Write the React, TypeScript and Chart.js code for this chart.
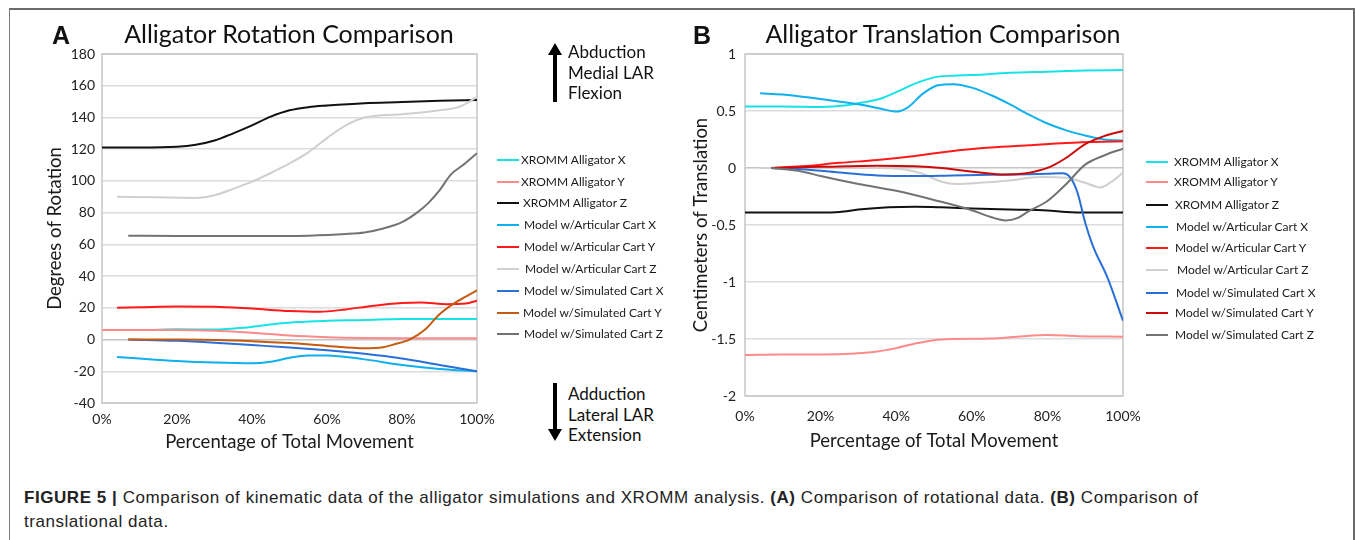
import React, { useEffect, useRef } from 'react';
import { Chart, registerables } from 'chart.js';

Chart.register(...registerables);

type Pts = [number, number][];

// ---------- axis ticks ----------
const xTickValues = [0, 20, 40, 60, 80, 100];
const xTickLabels = ['0%', '20%', '40%', '60%', '80%', '100%'];
const rotTickValues = [-40, -20, 0, 20, 40, 60, 80, 100, 120, 140, 160, 180];
const rotTickLabels = ['-40', '-20', '0', '20', '40', '60', '80', '100', '120', '140', '160', '180'];
const trTickValues = [-2, -1.5, -1, -0.5, 0, 0.5, 1];
const trTickLabels = ['-2', '-1.5', '-1', '-0.5', '0', '0.5', '1'];

// ---------- series ----------
const seriesNames = [
  'XROMM Alligator X',
  'XROMM Alligator Y',
  'XROMM Alligator Z',
  'Model w/Articular Cart X',
  'Model w/Articular Cart Y',
  'Model w/Articular Cart Z',
  'Model w/Simulated Cart X',
  'Model w/Simulated Cart Y',
  'Model w/Simulated Cart Z',
];
const rotColors = ['#17e3e6', '#ff8a8a', '#111111', '#0fb0ee', '#ff1a1a', '#cfcfcf', '#2a6fd6', '#c55a11', '#737373'];
const trColors = ['#17e3e6', '#ff8a8a', '#111111', '#0fb0ee', '#ff1a1a', '#cfcfcf', '#2a6fd6', '#cc0a0a', '#737373'];

// Rotation (degrees) — x = percentage of total movement
const rotXrommX: Pts = [[0, 6], [10, 6], [20, 6.5], [30, 6.3], [38, 7.5], [45, 9.5], [52, 11], [60, 11.8], [70, 12.3], [80, 13], [90, 13], [100, 13]];
const rotXrommY: Pts = [[0, 6], [10, 6], [20, 6], [30, 5.5], [40, 4.3], [50, 2.5], [60, 1.5], [70, 1], [80, 0.8], [90, 0.8], [100, 0.8]];
const rotXrommZ: Pts = [[0, 121], [10, 121], [20, 121.5], [25, 122.8], [30, 125.5], [35, 130], [40, 135], [45, 140.5], [50, 144.5], [55, 146.5], [60, 147.5], [70, 149], [80, 149.7], [90, 150.5], [100, 151]];
const rotArtX: Pts = [[4, -11], [10, -12], [20, -13.5], [30, -14.5], [40, -15], [45, -14], [50, -11.5], [55, -10], [60, -10], [70, -12.5], [80, -16], [90, -18.5], [100, -20]];
const rotArtY: Pts = [[4, 20], [10, 20.3], [20, 20.8], [30, 20.7], [40, 19.5], [50, 18], [58, 17.5], [65, 19], [72, 21.2], [80, 23], [85, 23.4], [92, 22.3], [97, 22.7], [100, 24.5]];
const rotArtZ: Pts = [[4, 90], [15, 89.7], [25, 89.3], [30, 91], [35, 95], [40, 99.5], [45, 105], [50, 111], [55, 118], [60, 127], [65, 135], [70, 140], [80, 142], [90, 144.5], [95, 146.5], [98, 150], [100, 153]];
const rotSimX: Pts = [[7, 0], [20, -0.8], [30, -2], [40, -3.5], [50, -5], [60, -6.8], [70, -9], [80, -12], [90, -16], [100, -20]];
const rotSimY: Pts = [[7, 0], [20, 0], [30, -0.3], [40, -1], [50, -2.2], [60, -4], [70, -5.5], [75, -4.8], [78, -3], [82, 0], [86, 6], [90, 16], [94, 23], [97, 27], [100, 31]];
const rotSimZ: Pts = [[7, 65.5], [20, 65.3], [40, 65.2], [55, 65.5], [65, 66.5], [70, 67.5], [75, 70], [80, 74], [84, 80], [87, 86], [90, 94], [93, 104], [96, 109.5], [100, 117.5]];

// Translation (cm)
const trXrommX: Pts = [[0, 0.54], [10, 0.54], [20, 0.535], [27, 0.55], [32, 0.58], [36, 0.61], [40, 0.665], [45, 0.74], [50, 0.795], [55, 0.81], [60, 0.815], [70, 0.835], [80, 0.845], [90, 0.855], [100, 0.86]];
const trXrommY: Pts = [[0, -1.64], [10, -1.635], [20, -1.635], [28, -1.63], [35, -1.61], [40, -1.58], [45, -1.54], [50, -1.51], [55, -1.5], [65, -1.495], [72, -1.48], [80, -1.465], [88, -1.475], [100, -1.48]];
const trXrommZ: Pts = [[0, -0.39], [10, -0.39], [20, -0.39], [25, -0.385], [30, -0.365], [38, -0.345], [45, -0.34], [52, -0.345], [60, -0.355], [70, -0.365], [80, -0.372], [85, -0.385], [90, -0.39], [100, -0.39]];
const trArtX: Pts = [[4, 0.655], [10, 0.645], [20, 0.605], [30, 0.56], [36, 0.52], [40, 0.495], [43, 0.53], [47, 0.65], [51, 0.725], [55, 0.735], [60, 0.705], [65, 0.64], [70, 0.56], [75, 0.47], [80, 0.39], [85, 0.33], [90, 0.285], [95, 0.25], [100, 0.24]];
const trArtY: Pts = [[7, 0], [15, 0.015], [25, 0.045], [35, 0.07], [45, 0.105], [55, 0.15], [65, 0.18], [75, 0.2], [85, 0.22], [100, 0.235]];
const trArtZ: Pts = [[4, 0], [20, 0], [35, 0], [42, -0.01], [47, -0.05], [52, -0.12], [56, -0.14], [62, -0.13], [70, -0.11], [78, -0.08], [85, -0.085], [90, -0.13], [94, -0.17], [97, -0.12], [100, -0.04]];
const trSimX: Pts = [[7, 0], [15, -0.01], [25, -0.04], [35, -0.065], [45, -0.07], [55, -0.065], [65, -0.06], [75, -0.055], [80, -0.05], [84, -0.045], [86, -0.08], [88, -0.22], [90, -0.48], [92, -0.68], [96, -0.97], [100, -1.34]];
const trSimY: Pts = [[7, 0], [20, 0.01], [35, 0.02], [45, 0.015], [52, 0], [58, -0.025], [64, -0.045], [69, -0.058], [74, -0.048], [78, -0.02], [81, 0.015], [85, 0.09], [90, 0.21], [95, 0.28], [100, 0.325]];
const trSimZ: Pts = [[7, 0], [15, -0.03], [20, -0.07], [30, -0.14], [40, -0.2], [50, -0.28], [60, -0.37], [65, -0.43], [69, -0.46], [72, -0.44], [75, -0.38], [80, -0.29], [85, -0.14], [90, 0.03], [95, 0.11], [100, 0.17]];

const rotSeries = [rotXrommX, rotXrommY, rotXrommZ, rotArtX, rotArtY, rotArtZ, rotSimX, rotSimY, rotSimZ];
const trSeries = [trXrommX, trXrommY, trXrommZ, trArtX, trArtY, trArtZ, trSimX, trSimY, trSimZ];

const FONT = 'Lato, "Open sans", sans-serif';

const framePlugin = {
  id: 'plotFrame',
  beforeDatasetsDraw(chart: any) {
    const { ctx, chartArea } = chart;
    const { left, top, right, bottom } = chartArea;
    ctx.save();
    ctx.strokeStyle = '#c6c6c6';
    ctx.lineWidth = 1.5;
    ctx.strokeRect(left, top, right - left, bottom - top);
    ctx.restore();
  },
};

function labelFor(values: number[], labels: string[]) {
  return (v: any) => {
    const i = values.findIndex((t) => Math.abs(t - Number(v)) < 1e-9);
    return i >= 0 ? labels[i] : '';
  };
}

interface Geo {
  padLeft: number;
  padTop: number;
  padRight: number;
  yWidth: number;
  xHeight: number;
  yTickPad: number;
  xTickPad: number;
  xTitlePadBottom: number;
}

function makeConfig(
  series: Pts[],
  colors: string[],
  yMin: number,
  yMax: number,
  yStep: number,
  yVals: number[],
  yLabels: string[],
  yTitle: string,
  g: Geo
): any {
  return {
    type: 'line',
    data: {
      datasets: series.map((pts, i) => ({
        label: seriesNames[i],
        data: pts.map(([x, y]) => ({ x, y })),
        borderColor: colors[i],
        backgroundColor: colors[i],
        borderWidth: 2,
        pointRadius: 0,
        fill: false,
        tension: 0.4,
        cubicInterpolationMode: 'monotone',
        order: series.length - i,
      })),
    },
    options: {
      responsive: false,
      animation: false,
      devicePixelRatio: 1,
      layout: { padding: { left: g.padLeft, top: g.padTop, right: g.padRight, bottom: 0 } },
      plugins: { legend: { display: false }, tooltip: { enabled: false }, title: { display: false } },
      scales: {
        x: {
          type: 'linear',
          min: 0,
          max: 100,
          afterFit: (s: any) => {
            s.height = g.xHeight;
          },
          ticks: {
            stepSize: 20,
            padding: g.xTickPad,
            maxRotation: 0,
            color: '#222',
            font: { family: FONT, size: 14 },
            callback: labelFor(xTickValues, xTickLabels),
          },
          grid: { display: false, drawTicks: false },
          border: { display: false },
          title: {
            display: true,
            text: 'Percentage of Total Movement',
            color: '#1a1a1a',
            font: { family: FONT, size: 18.5 },
            padding: { top: 0, bottom: g.xTitlePadBottom },
          },
        },
        y: {
          type: 'linear',
          min: yMin,
          max: yMax,
          afterFit: (s: any) => {
            s.width = g.yWidth;
          },
          ticks: {
            stepSize: yStep,
            padding: g.yTickPad,
            color: '#222',
            font: { family: FONT, size: 14 },
            callback: labelFor(yVals, yLabels),
          },
          grid: {
            drawTicks: false,
            lineWidth: 1.5,
            color: (c: any) => (c.tick && c.tick.value === 0 ? '#c4c4c4' : '#dcdcdc'),
          },
          border: { display: false },
          title: {
            display: true,
            text: yTitle,
            color: '#1a1a1a',
            font: { family: FONT, size: 18.5 },
            padding: 0,
          },
        },
      },
    },
    plugins: [framePlugin],
  };
}

const legendRowsA = [160, 181.7, 203.3, 225, 246.7, 269.3, 291, 312.7, 334];
const legendIndentA = [0, 0, 2, 3, 3, 4, 3, 2, 3];
const legendRowsB = [161.7, 182.3, 205, 226.7, 247.7, 270, 292.7, 313.3, 335];
const legendIndentB = [0, 0, 1, 2, 1, 3, 2, 1, 1];

function Legend({ x, gap, rows, indents, colors }: { x: number; gap: number; rows: number[]; indents: number[]; colors: string[] }) {
  return (
    <>
      {seriesNames.map((n, i) => (
        <div key={n}>
          <div
            style={{
              position: 'absolute',
              left: x,
              top: rows[i] - 1,
              width: 22,
              height: 2,
              background: colors[i],
            }}
          />
          <div
            style={{
              position: 'absolute',
              left: x + gap + indents[i],
              top: rows[i] - 8,
              height: 16,
              lineHeight: '16px',
              fontFamily: FONT,
              fontSize: 12,
              color: '#1a1a1a',
              whiteSpace: 'nowrap',
            }}
          >
            {n}
          </div>
        </div>
      ))}
    </>
  );
}

function Arrow({ x, y1, y2, up }: { x: number; y1: number; y2: number; up: boolean }) {
  const w = 14;
  const h = y2 - y1;
  const head = 12;
  return (
    <svg style={{ position: 'absolute', left: x - w / 2, top: y1 }} width={w} height={h}>
      {up ? (
        <>
          <polygon points={`${w / 2},0 0,${head} ${w},${head}`} fill="#000" />
          <rect x={w / 2 - 2} y={head - 1} width={4} height={h - head + 1} fill="#000" />
        </>
      ) : (
        <>
          <rect x={w / 2 - 2} y={0} width={4} height={h - head + 1} fill="#000" />
          <polygon points={`0,${h - head} ${w},${h - head} ${w / 2},${h}`} fill="#000" />
        </>
      )}
    </svg>
  );
}

export default function App() {
  const refA = useRef<HTMLCanvasElement | null>(null);
  const refB = useRef<HTMLCanvasElement | null>(null);

  useEffect(() => {
    const a = new Chart(
      refA.current as HTMLCanvasElement,
      makeConfig(rotSeries, rotColors, -40, 180, 20, rotTickValues, rotTickLabels, 'Degrees of Rotation', {
        padLeft: 34,
        padTop: 44,
        padRight: 40,
        yWidth: 58,
        xHeight: 57,
        yTickPad: 7,
        xTickPad: 8,
        xTitlePadBottom: 7,
      })
    );
    const b = new Chart(
      refB.current as HTMLCanvasElement,
      makeConfig(trSeries, trColors, -2, 1, 0.5, trTickValues, trTickLabels, 'Centimeters of Translation', {
        padLeft: 0,
        padTop: 44,
        padRight: 40,
        yWidth: 55,
        xHeight: 64,
        yTickPad: 9,
        xTickPad: 12,
        xTitlePadBottom: 8,
      })
    );
    return () => {
      a.destroy();
      b.destroy();
    };
  }, []);

  const textStyle: React.CSSProperties = {
    position: 'absolute',
    fontFamily: FONT,
    color: '#111',
    whiteSpace: 'nowrap',
  };

  return (
    <div
      style={{
        position: 'absolute',
        left: 0,
        top: 0,
        width: 1355,
        height: 540,
        overflow: 'hidden',
        background: '#fff',
      }}
    >
      <div
        style={{
          position: 'absolute',
          left: 9,
          top: 8,
          width: 1343,
          height: 600,
          borderTop: '2px solid #6a6a6a',
          borderLeft: '1.5px solid #7a7a7a',
          borderRight: '2px solid #6a6a6a',
        }}
      />
      <canvas ref={refA} width={507} height={450} style={{ position: 'absolute', left: 10, top: 10 }} />
      <canvas ref={refB} width={473} height={450} style={{ position: 'absolute', left: 690, top: 10 }} />

      {/* panel letters and titles */}
      <div style={{ ...textStyle, left: 52, top: 23, fontFamily: '"Liberation Sans", Arial, sans-serif', fontWeight: 700, fontSize: 25, lineHeight: '25px' }}>A</div>
      <div style={{ ...textStyle, left: 289, top: 21, fontSize: 25, lineHeight: '25px', transform: 'translateX(-50%)' }}>
        Alligator Rotation Comparison
      </div>
      <div style={{ ...textStyle, left: 693, top: 23, fontFamily: '"Liberation Sans", Arial, sans-serif', fontWeight: 700, fontSize: 25, lineHeight: '25px' }}>B</div>
      <div style={{ ...textStyle, left: 943, top: 21, fontSize: 25, lineHeight: '25px', transform: 'translateX(-50%)' }}>
        Alligator Translation Comparison
      </div>

      {/* direction arrows */}
      <Arrow x={555} y1={43} y2={102} up={true} />
      <div style={{ ...textStyle, left: 568, top: 42, fontSize: 17, lineHeight: '20.5px' }}>
        Abduction
        <br />
        Medial LAR
        <br />
        Flexion
      </div>
      <Arrow x={555} y1={383} y2={441} up={false} />
      <div style={{ ...textStyle, left: 568, top: 384, fontSize: 17, lineHeight: '20.5px' }}>
        Adduction
        <br />
        Lateral LAR
        <br />
        Extension
      </div>

      <Legend x={497} gap={24} rows={legendRowsA} indents={legendIndentA} colors={rotColors} />
      <Legend x={1146} gap={28} rows={legendRowsB} indents={legendIndentB} colors={trColors} />

      {/* caption */}
      <div
        style={{
          position: 'absolute',
          left: 24,
          top: 486,
          width: 1300,
          fontFamily: '"Liberation Sans", Arial, sans-serif',
          fontSize: 17,
          letterSpacing: '0.55px',
          lineHeight: '24px',
          color: '#222',
          whiteSpace: 'nowrap',
        }}
      >
        <b>FIGURE 5 |</b> Comparison of kinematic data of the alligator simulations and XROMM analysis. <b>(A)</b> Comparison of
        rotational data. <b>(B)</b> Comparison of
        <br />
        translational data.
      </div>
    </div>
  );
}
